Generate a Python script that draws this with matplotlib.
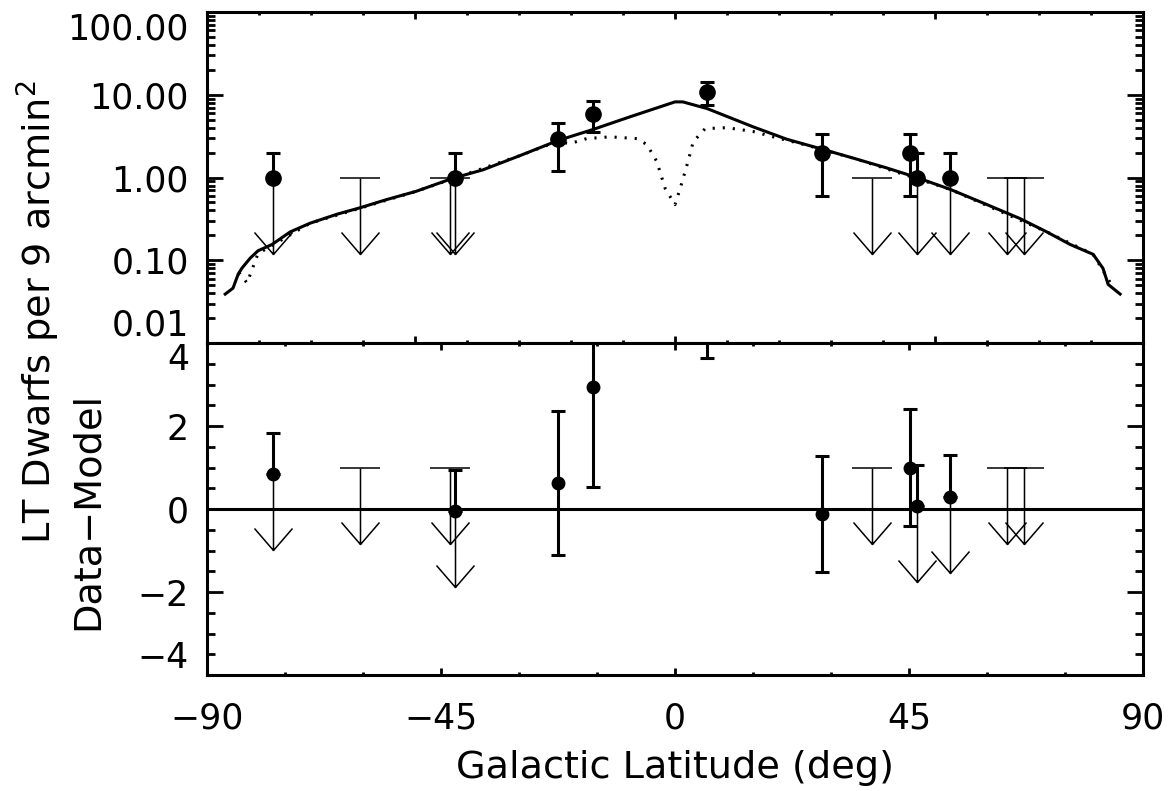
"""
plot.py - LT dwarf counts vs galactic latitude, with data-model residuals.
"""

import matplotlib
matplotlib.use("Agg")
import matplotlib.pyplot as plt
from matplotlib.path import Path
from matplotlib.ticker import FixedLocator, MultipleLocator, LogLocator, NullFormatter

plt.rcParams["font.family"] = ["DejaVu Sans"]

# ---------------------------------------------------------------------------
# Data
# ---------------------------------------------------------------------------
# model counts, solid curve
model_b = [-86.5, -85.0, -84.0, -83.3, -81.7, -80.2, -77.5, -74.0, -70.2, -65.0,
           -60.6, -55.5, -49.8, -42.7, -36.9, -29.8, -22.5, -15.8, -8.7, 0.0,
           1.5, 6.2, 15.0, 21.5, 28.3, 34.2, 40.8, 46.5, 52.9, 60.0,
           66.3, 71.5, 76.0, 80.4, 82.3, 83.3, 85.6]
model_solid = [0.039, 0.046, 0.068, 0.080, 0.106, 0.13, 0.155, 0.22, 0.28, 0.36,
               0.43, 0.54, 0.68, 0.98, 1.24, 1.84, 2.8, 3.8, 5.4, 8.2,
               8.2, 6.8, 4.1, 2.9, 2.2, 1.72, 1.3, 1.0, 0.72, 0.47,
               0.32, 0.22, 0.155, 0.118, 0.08, 0.051, 0.039]

# model counts, dotted curve (differs near the plane)
dot_b = [-84.0, -83.6, -82.3, -80.2, -70.2, -49.8, -29.8, -25.0, -22.5, -20.2,
         -17.0, -12.5, -7.3, -5.4, -3.5, -1.9, 0.0, 1.0, 2.5, 3.5,
         5.8, 10.0, 15.0, 20.2, 25.4, 34.2, 52.9, 71.5, 80.4, 82.3, 84.0]
model_dot = [0.068, 0.068, 0.053, 0.12, 0.28, 0.68, 1.84, 2.4, 2.7, 2.57,
             2.95, 3.1, 2.95, 2.5, 1.56, 0.74, 0.47, 0.74, 1.56, 2.7,
             3.9, 4.0, 3.6, 2.95, 2.45, 1.72, 0.72, 0.22, 0.118, 0.075, 0.05]

# fields with detections
det_b = [-77.3, -42.4, -22.5, -15.8, 6.2, 28.3, 45.2, 46.5, 52.9]
det_n = [1.0, 1.0, 2.9, 5.9, 10.8, 2.0, 2.0, 1.0, 1.0]
det_err = [1.0, 1.0, 1.7, 2.4, 3.3, 1.4, 1.4, 1.0, 1.0]
det_single = [True, True, False, False, False, False, False, True, True]

# fields with no detection (upper limits)
lim_b = [-60.6, -43.2, 37.9, 63.8, 67.1]
lim_n = [1.0, 1.0, 1.0, 1.0, 1.0]

# residuals (data - model)
res_val = [0.84, -0.05, 0.63, 2.94, 7.0, -0.12, 1.0, 0.07, 0.29]
res_err = [1.0, 1.0, 1.73, 2.4, 3.36, 1.4, 1.41, 1.0, 1.0]
res_lim = [1.0, 1.0, 1.0, 1.0, 1.0]

top_ticks = [0.01, 0.1, 1.0, 10.0, 100.0]
top_ticklabels = ["0.01", "0.10", "1.00", "10.00", "100.00"]
bot_ticks = [-4, -2, 0, 2, 4]
bot_ticklabels = ["\u22124", "\u22122", "0", "2", "4"]
x_ticks = [-90, -45, 0, 45, 90]
x_ticklabels = ["\u221290", "\u221245", "0", "45", "90"]

# ---------------------------------------------------------------------------
# Styling helpers
# ---------------------------------------------------------------------------
# downward arrow marker: shaft + open V head, anchored at the top of the shaft
ARROW = Path(
    [(0, 0), (0, -76), (-19, -54), (0, -76), (19, -54)],
    [Path.MOVETO, Path.LINETO, Path.MOVETO, Path.LINETO, Path.LINETO],
)
ARROW_MS = 2 * 76 * 72 / 100.0  # marker size in points, dpi 100


def style_axis(ax):
    for sp in ax.spines.values():
        sp.set_linewidth(2.2)
    ax.tick_params(which="both", direction="in", top=True, right=True,
                   width=2.0, labelsize=25)
    ax.tick_params(axis="y", which="major", length=11.5, pad=13)
    ax.tick_params(axis="y", which="minor", length=5.8)
    ax.tick_params(axis="x", which="major", length=5)
    ax.tick_params(axis="x", which="minor", length=2.5)


def draw_points(ax, vals, errs, lims, ms):
    lo = [0.0 if s else e for s, e in zip(det_single, errs)]
    ax.errorbar(det_b, vals, yerr=[lo, errs], fmt="o", color="k", ms=ms,
                lw=2.2, elinewidth=2.2, capsize=4.7, capthick=2.2, zorder=4)
    sb = [b for b, s in zip(det_b, det_single) if s]
    sv = [v for v, s in zip(vals, det_single) if s]
    ax.plot(sb, sv, ls="none", marker=ARROW, ms=ARROW_MS, mfc="none",
            mec="k", mew=1.1, zorder=3)
    ax.plot(lim_b, lims, ls="none", marker="_", ms=29, mew=1.1, color="k",
            zorder=3)
    ax.plot(lim_b, lims, ls="none", marker=ARROW, ms=ARROW_MS, mfc="none",
            mec="k", mew=1.1, zorder=3)


# ---------------------------------------------------------------------------
# Figure
# ---------------------------------------------------------------------------
W, H = 1174, 791
fig = plt.figure(figsize=(W / 100, H / 100), dpi=100)
fig.patch.set_facecolor("white")

left, right = 207 / W, 1143 / W
ax1 = fig.add_axes([left, 1 - 343 / H, right - left, 331 / H])
ax2 = fig.add_axes([left, 1 - 675 / H, right - left, 332 / H])

# top panel: counts
ax1.plot(dot_b, model_dot, color="k", lw=2.2, ls=(0, (0.7, 2.6)), zorder=2)
ax1.plot(model_b, model_solid, color="k", lw=2.2, zorder=2)
draw_points(ax1, det_n, det_err, lim_n, ms=11)

ax1.set_yscale("log")
ax1.set_xlim(-90, 90)
ax1.set_ylim(0.01, 100)
ax1.xaxis.set_major_locator(MultipleLocator(50))
ax1.xaxis.set_minor_locator(MultipleLocator(10))
ax1.tick_params(axis="x", labelbottom=False)
ax1.yaxis.set_major_locator(FixedLocator(top_ticks))
ax1.set_yticklabels(top_ticklabels)
ax1.yaxis.set_minor_locator(LogLocator(base=10, subs=range(2, 10)))
ax1.yaxis.set_minor_formatter(NullFormatter())
style_axis(ax1)

# bottom panel: residuals
ax2.axhline(0, color="k", lw=2.2, zorder=1)
draw_points(ax2, res_val, res_err, res_lim, ms=9)

ax2.set_xlim(-90, 90)
ax2.set_ylim(-4, 4)
ax2.set_xticks(x_ticks)
ax2.set_xticklabels(x_ticklabels)
ax2.xaxis.set_minor_locator(MultipleLocator(15))
ax2.set_yticks(bot_ticks)
ax2.set_yticklabels(bot_ticklabels)
ax2.yaxis.set_minor_locator(MultipleLocator(0.5))
style_axis(ax2)
ax2.tick_params(axis="x", which="major", pad=19)

# keep end labels inside the panels, as in the original
for ax in (ax1, ax2):
    ticks = ax.yaxis.get_major_ticks()
    ticks[0].label1.set_va("bottom")
    ticks[-1].label1.set_va("top")

# axis titles
fig.text(675 / W, 1 - 768 / H, "Galactic Latitude (deg)", fontsize=27.5,
         ha="center", va="center")
fig.text(38 / W, 1 - 312 / H, "LT Dwarfs per 9 arcmin$^2$", fontsize=27.5,
         rotation=90, ha="center", va="center")
fig.text(88 / W, 1 - 511 / H, "Data\u2212Model", fontsize=27.5,
         rotation=90, ha="center", va="center")

fig.savefig("out.png", dpi=100, facecolor="white")
